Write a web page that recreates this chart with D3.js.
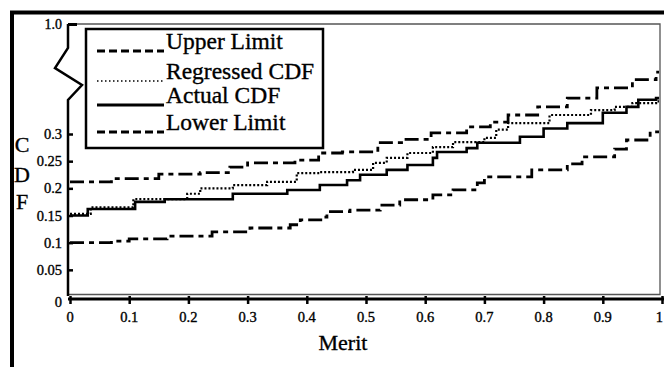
<!DOCTYPE html>
<html>
<head>
<meta charset="utf-8">
<script src="https://cdn.jsdelivr.net/npm/d3@7"></script>
<style>
  body { margin: 0; background: #fff; }
  svg { display: block; font-family: "Liberation Serif", "Times New Roman", serif; }
  svg text { stroke: #000; stroke-width: 0.35px; }
</style>
</head>
<body>
<div id="chart"></div>
<script>
// merit positions and CDF values
const upperX = [0, 0.07, 0.15, 0.22, 0.27, 0.30, 0.38, 0.42, 0.46, 0.52, 0.56, 0.61, 0.67, 0.71, 0.74, 0.79, 0.84, 0.89, 0.95, 0.99];
const upperY = [0.212, 0.218, 0.226, 0.229, 0.239, 0.247, 0.252, 0.265, 0.267, 0.284, 0.29, 0.302, 0.313, 0.322, 0.335, 0.35, 0.366, 0.385, 0.40, 0.414];

const regressedX = [0, 0.035, 0.107, 0.198, 0.22, 0.275, 0.333, 0.383, 0.422, 0.478, 0.512, 0.535, 0.57, 0.613, 0.647, 0.70, 0.72, 0.74, 0.81, 0.88, 0.92, 0.95, 0.99];
const regressedY = [0.153, 0.165, 0.18, 0.19, 0.20, 0.206, 0.212, 0.228, 0.23, 0.234, 0.247, 0.256, 0.265, 0.276, 0.285, 0.293, 0.308, 0.32, 0.335, 0.344, 0.35, 0.357, 0.36];

const actualX = [0, 0.03, 0.11, 0.16, 0.275, 0.367, 0.422, 0.468, 0.49, 0.535, 0.57, 0.613, 0.62, 0.67, 0.688, 0.76, 0.80, 0.84, 0.90, 0.94, 0.96, 0.99];
const actualY = [0.15, 0.162, 0.175, 0.18, 0.19, 0.197, 0.206, 0.215, 0.225, 0.234, 0.243, 0.256, 0.267, 0.274, 0.284, 0.295, 0.31, 0.32, 0.339, 0.35, 0.363, 0.366];

const lowerX = [0, 0.07, 0.1, 0.164, 0.24, 0.304, 0.372, 0.389, 0.427, 0.434, 0.473, 0.524, 0.557, 0.613, 0.647, 0.688, 0.70, 0.78, 0.84, 0.865, 0.92, 0.94, 0.98];
const lowerY = [0.10, 0.103, 0.107, 0.112, 0.12, 0.127, 0.133, 0.142, 0.147, 0.157, 0.16, 0.169, 0.179, 0.188, 0.197, 0.21, 0.221, 0.234, 0.245, 0.258, 0.272, 0.289, 0.304];

const xTicks = [0, 0.1, 0.2, 0.3, 0.4, 0.5, 0.6, 0.7, 0.8, 0.9, 1];
const xTickLabels = ['0', '0.1', '0.2', '0.3', '0.4', '0.5', '0.6', '0.7', '0.8', '0.9', '1'];
const yTicks = [0, 0.05, 0.1, 0.15, 0.2, 0.25, 0.3];
const yTickLabels = ['0', '0.05', '0.1', '0.15', '0.2', '0.25', '0.3'];

const series = [
  { name: 'Upper Limit', xs: upperX, ys: upperY, dash: '14,5,5,5', width: 2.8, legendDash: '8,4' },
  { name: 'Regressed CDF', xs: regressedX, ys: regressedY, dash: '2,2', width: 2.2, legendDash: '1.5,2.5' },
  { name: 'Actual CDF', xs: actualX, ys: actualY, dash: null, width: 2.6, legendDash: null },
  { name: 'Lower Limit', xs: lowerX, ys: lowerY, dash: '14,5,5,5', width: 2.8, legendDash: '8,4' }
];

const width = 664, height = 367;
const svg = d3.select('#chart').append('svg')
  .attr('width', width)
  .attr('height', height);

const x = d3.scaleLinear().domain([0, 1]).range([70, 662]);
const y = d3.scaleLinear().domain([0, 0.3]).range([297, 134]);

// outer frame (only left and top edges visible in the scan)
svg.append('path')
  .attr('d', `M12,${height} L12,12.5 L${width},12.5`)
  .attr('fill', 'none')
  .attr('stroke', '#000')
  .attr('stroke-width', 4);

// plot frame, thin and grey
svg.append('path')
  .attr('d', 'M68,24 L660,24 L660,294.5 L68,294.5')
  .attr('fill', 'none')
  .attr('stroke', '#555')
  .attr('stroke-width', 1.3);

// y axis with a break between 0.3 and 1.0
svg.append('path')
  .attr('d', 'M68,24 L68,48 L55,68 L82,85 L68,100 L68,296')
  .attr('fill', 'none')
  .attr('stroke', '#000')
  .attr('stroke-width', 2.5);
svg.append('line')
  .attr('x1', 68).attr('x2', 77).attr('y1', 24.5).attr('y2', 24.5)
  .attr('stroke', '#000').attr('stroke-width', 3);
svg.append('text')
  .attr('x', 62).attr('y', 29)
  .attr('text-anchor', 'end')
  .style('font-size', '14px')
  .text('1.0');

const yAxis = svg.append('g')
  .attr('transform', 'translate(68,0)')
  .call(d3.axisRight(y).tickValues(yTicks.slice(1)).tickSize(5).tickFormat(''));
yAxis.select('.domain').remove();
yAxis.selectAll('.tick line').attr('stroke-width', 2.5);

svg.selectAll('text.ylab')
  .data(yTicks)
  .join('text')
  .attr('class', 'ylab')
  .attr('x', 62)
  .attr('y', (d, i) => (i === 0 ? y(d) + 10 : y(d) + 5))
  .attr('text-anchor', 'end')
  .style('font-size', '14.5px')
  .text((d, i) => yTickLabels[i]);

// x axis: thick baseline with ticks through it
const xAxis = svg.append('g')
  .attr('transform', 'translate(0,299)')
  .call(d3.axisBottom(x).tickValues(xTicks).tickSizeInner(5).tickSizeOuter(0).tickFormat(''));
xAxis.select('.domain').attr('d', 'M68,0H664').attr('stroke-width', 3);
xAxis.selectAll('.tick line').attr('y1', -3).attr('stroke-width', 2.5);

// last label sits at the right edge of the page, so keep it inside
svg.selectAll('text.xlab')
  .data(xTicks)
  .join('text')
  .attr('class', 'xlab')
  .attr('x', d => (d === 1 ? width - 1 : x(d)))
  .attr('y', 322)
  .attr('text-anchor', d => (d === 1 ? 'end' : 'middle'))
  .style('font-size', '14.5px')
  .text((d, i) => xTickLabels[i]);

// axis titles
svg.append('text')
  .attr('x', 343).attr('y', 350)
  .attr('text-anchor', 'middle')
  .style('font-size', '22px')
  .text('Merit');

['C', 'D', 'F'].forEach((ch, i) => {
  svg.append('text')
    .attr('x', 22).attr('y', [152, 182, 209][i])
    .attr('text-anchor', 'middle')
    .style('font-size', '22px')
    .text(ch);
});

// step curves
const line = d3.line()
  .x(d => x(d[0]))
  .y(d => y(d[1]))
  .curve(d3.curveStepAfter);

series.forEach(s => {
  const pts = s.xs.map((v, i) => [v, s.ys[i]]);
  pts.push([0.995, s.ys[s.ys.length - 1]]);
  svg.append('path')
    .datum(pts)
    .attr('d', line)
    .attr('fill', 'none')
    .attr('stroke', '#000')
    .attr('stroke-width', s.width)
    .attr('stroke-dasharray', s.dash);
});

// legend
const legend = svg.append('g');
legend.append('rect')
  .attr('x', 86).attr('y', 29)
  .attr('width', 237).attr('height', 119)
  .attr('fill', '#fff')
  .attr('stroke', '#000')
  .attr('stroke-width', 2.5);

const legendRows = [49, 79, 103, 130];
series.forEach((s, i) => {
  const yy = legendRows[i];
  legend.append('line')
    .attr('x1', 97).attr('x2', 164)
    .attr('y1', yy + 2).attr('y2', yy + 2)
    .attr('stroke', '#000')
    .attr('stroke-width', s.dash === '2,2' ? 1.3 : 2.8)
    .attr('stroke-dasharray', s.legendDash);
  legend.append('text')
    .attr('x', 166).attr('y', yy)
    .style('font-size', '23.5px')
    .text(s.name);
});
</script>
</body>
</html>
